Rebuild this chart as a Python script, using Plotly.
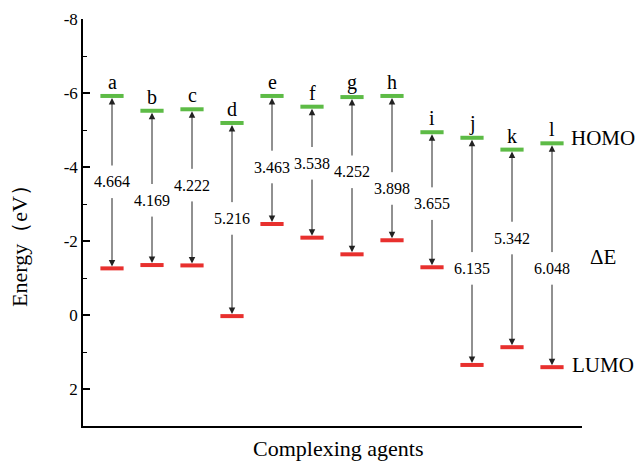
import plotly.graph_objects as go

categories = ["a", "b", "c", "d", "e", "f", "g", "h", "i", "j", "k", "l"]
homo = [-5.92, -5.52, -5.56, -5.19, -5.92, -5.63, -5.89, -5.92, -4.94, -4.79, -4.47, -4.64]
lumo = [-1.26, -1.35, -1.34, 0.03, -2.46, -2.09, -1.64, -2.02, -1.29, 1.35, 0.87, 1.41]
delta_e = ["4.664", "4.169", "4.222", "5.216", "3.463", "3.538", "4.252", "3.898",
           "3.655", "6.135", "5.342", "6.048"]
label_y = [-3.60, -3.10, -3.51, -2.61, -4.00, -4.10, -3.87, -3.42, -3.01, -1.26, -2.08, -1.26]
tick_vals = [-8, -6, -4, -2, 0, 2]
tick_text = ["-8", "-6", "-4", "-2", "0", "2"]

FONT = "Liberation Serif, Times New Roman, serif"
GREEN = "#5DBB46"
RED = "#E8302E"
HALF = 0.29
GAP = 0.4

xs = list(range(1, len(categories) + 1))

hx, hy, lx, ly = [], [], [], []
for x, h, l in zip(xs, homo, lumo):
    hx += [x - HALF, x + HALF, None]
    hy += [h, h, None]
    lx += [x - HALF, x + HALF, None]
    ly += [l, l, None]

fig = go.Figure()
fig.add_trace(go.Scatter(x=hx, y=hy, mode="lines", line=dict(color=GREEN, width=4),
                         hoverinfo="skip", showlegend=False))
fig.add_trace(go.Scatter(x=lx, y=ly, mode="lines", line=dict(color=RED, width=4),
                         hoverinfo="skip", showlegend=False))

ann = []
for x, c, h, l, d, yl in zip(xs, categories, homo, lumo, delta_e, label_y):
    ann.append(dict(x=x, y=h, ax=x, ay=yl - GAP, xref="x", yref="y", axref="x", ayref="y",
                    showarrow=True, arrowhead=2, arrowsize=1.3, arrowwidth=1,
                    arrowcolor="#222222", standoff=2, text=""))
    ann.append(dict(x=x, y=l, ax=x, ay=yl + GAP, xref="x", yref="y", axref="x", ayref="y",
                    showarrow=True, arrowhead=2, arrowsize=1.3, arrowwidth=1,
                    arrowcolor="#222222", standoff=2, text=""))
    ann.append(dict(x=x, y=yl, xref="x", yref="y", text=d, showarrow=False,
                    font=dict(family=FONT, size=16, color="black")))
    ann.append(dict(x=x, y=h, xref="x", yref="y", text=c, showarrow=False,
                    yanchor="bottom", yshift=1,
                    font=dict(family=FONT, size=20, color="black")))

for txt, yp in [("HOMO", 0.708), ("ΔE", 0.416), ("LUMO", 0.15)]:
    ann.append(dict(x=1.043, y=yp, xref="paper", yref="paper", text=txt, showarrow=False,
                    xanchor="center", yanchor="middle",
                    font=dict(family=FONT, size=21, color="black")))

ann.append(dict(x=-0.126, y=0.455, xref="paper", yref="paper", text="Energy（eV）",
                textangle=-90, showarrow=False, xanchor="center", yanchor="middle",
                font=dict(family=FONT, size=22, color="black")))
ann.append(dict(x=0.511, y=-0.0565, xref="paper", yref="paper", text="Complexing agents",
                showarrow=False, xanchor="center", yanchor="middle",
                font=dict(family=FONT, size=22, color="black")))

fig.update_layout(
    width=640, height=462,
    margin=dict(l=83, r=58, t=19, b=36, autoexpand=False),
    plot_bgcolor="white", paper_bgcolor="white",
    annotations=ann,
    xaxis=dict(range=[0.275, 12.75], showline=True, linecolor="black", linewidth=1.5,
               showticklabels=False, ticks="", showgrid=False, zeroline=False,
               automargin=False),
    yaxis=dict(range=[3, -8], showline=True, linecolor="black", linewidth=1.5,
               tickmode="array", tickvals=tick_vals, ticktext=tick_text,
               ticks="inside", ticklen=7, tickwidth=1.5, tickcolor="black",
               minor=dict(dtick=1, tick0=0, ticks="inside", ticklen=4, tickcolor="black", tickwidth=1),
               showgrid=False, zeroline=False, automargin=False,
               tickfont=dict(family=FONT, size=17, color="black")),
)

fig.write_html(
    "out.html",
    config={"displayModeBar": False},
    post_script="document.body.style.margin='0';document.body.style.overflow='hidden';",
)
